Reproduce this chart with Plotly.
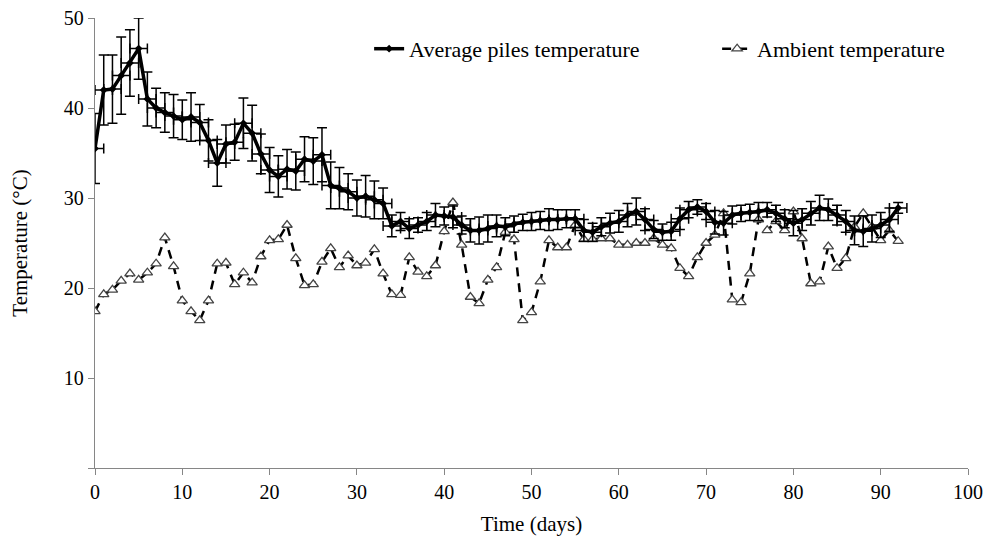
import plotly.graph_objects as go

days = list(range(93))
piles = [35.5, 42.0, 42.1, 43.6, 45.0, 46.6, 41.0, 40.0, 39.5, 39.1,
         38.7, 39.0, 38.4, 36.4, 33.9, 36.0, 36.2, 38.3, 37.2, 34.9,
         33.1, 32.4, 33.2, 33.0, 34.3, 34.1, 34.8, 31.4, 31.1, 30.7,
         30.0, 30.2, 29.8, 29.4, 26.9, 27.4, 26.6, 27.0, 27.4, 28.1,
         28.0, 27.9, 27.0, 26.4, 26.4, 26.6, 26.9, 26.8, 27.1, 27.3,
         27.4, 27.5, 27.6, 27.6, 27.7, 27.7, 26.4, 26.2, 26.8, 27.2,
         27.4, 28.1, 28.5, 27.6, 26.5, 26.2, 26.3, 27.7, 28.7, 29.0,
         28.5, 27.3, 27.2, 28.1, 28.3, 28.4, 28.5, 28.7, 28.3, 27.7,
         27.2, 27.6, 28.3, 28.9, 28.7, 28.1, 27.4, 26.4, 26.3, 26.6,
         27.0, 27.6, 28.9]
piles_err = [3.9, 3.9, 3.8, 4.3, 3.7, 3.4, 3.0, 2.2, 2.2, 2.4,
             2.2, 2.7, 2.0, 2.3, 2.6, 2.1, 2.0, 2.8, 3.1, 2.2,
             2.5, 2.3, 2.2, 2.1, 2.5, 2.6, 3.0, 2.6, 2.3, 2.0,
             2.0, 2.3, 2.1, 1.7, 1.2, 1.0, 1.1, 0.8, 1.0, 1.3,
             1.0, 1.2, 1.0, 1.3, 1.5, 1.5, 1.2, 1.0, 0.9, 0.9,
             1.0, 1.0, 1.2, 1.1, 1.0, 1.0, 1.2, 1.0, 1.0, 1.1,
             1.2, 1.3, 1.5, 1.2, 1.0, 0.9, 1.0, 1.2, 0.9, 0.8,
             0.9, 1.3, 1.3, 1.0, 0.9, 0.9, 1.0, 0.8, 0.9, 1.0,
             1.4, 1.2, 1.3, 1.4, 1.2, 1.1, 1.2, 1.6, 1.7, 1.5,
             1.4, 1.3, 0.6]
days_err = 1.0
ambient = [17.4, 19.3, 19.8, 20.8, 21.6, 20.9, 21.7, 22.7, 25.6, 22.4,
           18.6, 17.4, 16.4, 18.6, 22.7, 22.8, 20.4, 21.7, 20.6, 23.5,
           25.3, 25.4, 27.0, 23.3, 20.3, 20.4, 22.9, 24.4, 22.3, 23.6,
           22.5, 22.8, 24.3, 21.6, 19.3, 19.2, 23.4, 21.8, 21.3, 22.5,
           26.3, 29.5, 24.8, 19.0, 18.3, 20.9, 22.3, 26.2, 25.4, 16.4,
           17.3, 20.7, 25.3, 24.5, 24.5, 27.0, 25.4, 25.4, 25.5, 25.5,
           24.8, 24.8, 25.0, 25.0, 25.5, 24.8, 24.4, 22.2, 21.3, 23.4,
           25.0, 25.9, 28.3, 18.7, 18.4, 21.6, 27.6, 26.4, 27.4, 26.4,
           28.5, 25.5, 20.5, 20.7, 24.6, 22.2, 23.3, 26.8, 28.3, 26.8,
           25.3, 26.4, 25.2]

x_ticks = [0, 10, 20, 30, 40, 50, 60, 70, 80, 90, 100]
y_ticks = [0, 10, 20, 30, 40, 50]
y_ticktext = ["", "10", "20", "30", "40", "50"]

FONT = "Liberation Serif, Times New Roman, serif"

fig = go.Figure()

fig.add_trace(go.Scatter(
    x=days, y=ambient, mode="lines+markers", name="Ambient temperature",
    line=dict(color="black", width=2.5, dash="9px,7px"),
    marker=dict(symbol="triangle-up", size=9, color="white",
                line=dict(color="#444444", width=1.3)),
))

fig.add_trace(go.Scatter(
    x=days, y=piles, mode="lines+markers", name="Average piles temperature",
    line=dict(color="black", width=3.5),
    marker=dict(symbol="diamond", size=6, color="black"),
    error_y=dict(type="data", array=piles_err, visible=True,
                 color="black", thickness=1.5, width=5),
    error_x=dict(type="constant", value=days_err, visible=True,
                 color="black", thickness=1.5, width=5),
))

fig.update_layout(
    width=994, height=545,
    margin=dict(l=87, r=34, t=10, b=85, autoexpand=False),
    paper_bgcolor="white", plot_bgcolor="white",
    font=dict(family=FONT, size=20, color="black"),
    showlegend=True,
    legend=dict(orientation="h", x=0.314, y=0.978, xanchor="left", yanchor="top",
                traceorder="reversed", entrywidth=303,
                font=dict(family=FONT, size=22, color="black"),
                bgcolor="rgba(0,0,0,0)"),
    xaxis=dict(range=[0, 100], tickvals=x_ticks, showgrid=False, zeroline=False,
               showline=True, linecolor="#868686", linewidth=1.3,
               ticks="outside", ticklen=6, tickcolor="#868686",
               ticklabeloverflow="allow",
               tickfont=dict(family=FONT, size=20, color="black"),
               title=dict(text="Time (days)", standoff=14,
                          font=dict(family=FONT, size=21, color="black"))),
    yaxis=dict(range=[0, 50], tickvals=y_ticks, ticktext=y_ticktext,
               showgrid=False, zeroline=False,
               showline=True, linecolor="#868686", linewidth=1.3,
               ticks="outside", ticklen=6, tickcolor="#868686",
               ticklabeloverflow="allow",
               tickfont=dict(family=FONT, size=20, color="black"),
               title=dict(text="Temperature (°C)", standoff=32,
                          font=dict(family=FONT, size=21, color="black"))),
)

fig.write_html("out.html")
